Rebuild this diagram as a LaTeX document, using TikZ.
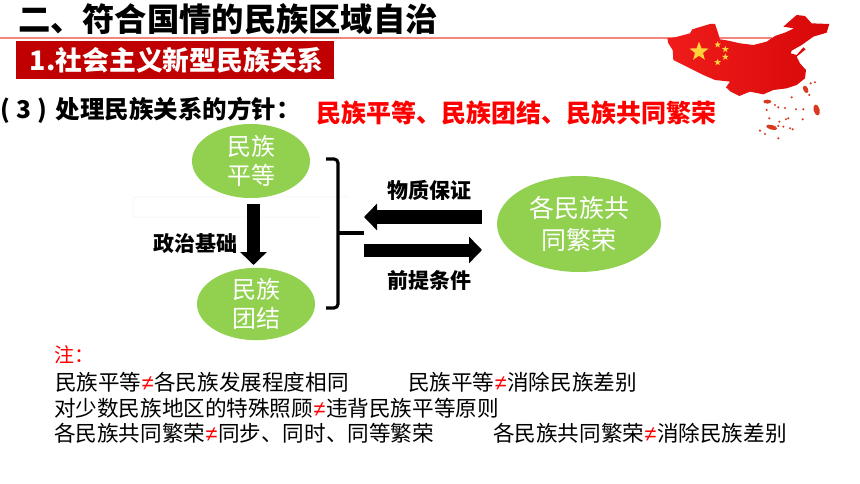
\documentclass[tikz,border=0pt]{standalone}
\usepackage{fontspec}
\setmainfont{Noto Sans CJK SC}
\newfontfamily\symfont{Liberation Sans}
\usetikzlibrary{shapes.geometric,arrows.meta,calc}
\definecolor{leafgreen}{HTML}{92D050}
\definecolor{boxred}{HTML}{C00000}
\definecolor{rulepink}{HTML}{F4857C}
\definecolor{islered}{HTML}{D83A20}
\definecolor{staryellow}{HTML}{FFD23C}
\definecolor{mapleft}{HTML}{F01C1C}
\definecolor{mapright}{HTML}{D80808}
\newcommand{\nq}{\hspace{.5pt}\textcolor{red}{\symfont ≠}\hspace{.5pt}}
\tikzset{
  x=1pt,y=-1pt,
  txt/.style={anchor=west,inner sep=0pt,outer sep=0pt},
  bubble/.style={ellipse,fill=leafgreen,inner sep=0pt,text=white,align=center,font=\fontsize{24}{30}\selectfont},
  blockarrow/.style={line width=13pt,-{Triangle[width=26pt,length=13pt]}},
  notetxt/.style={txt,font=\fontsize{21.6}{24}\selectfont},
  label/.style={anchor=center,inner sep=0pt,font=\fontsize{21}{24}\selectfont\bfseries},
  isle/.style={fill=islered,draw=none},
  bigstar/.style={star,star points=5,star point ratio=2.4,fill=staryellow,inner sep=0pt,minimum size=20pt},
  smallstar/.style={star,star points=5,star point ratio=2.4,fill=staryellow,inner sep=0pt,minimum size=7pt},
}
\begin{document}
\begin{tikzpicture}
\useasboundingbox (0,0) rectangle (860,484);
\fill[white] (0,0) rectangle (860,484);
% faint remnant
\draw[black!6,line width=.5pt,rounded corners=3pt] (348,197) -- (133,197) -- (133,217) -- (320,217);
% title rule
\draw[rulepink,line width=1.5pt] (0,38) -- (772,38);
% map
\begin{scope}[shift={(660,10)},x=.3333pt,y=-.3333pt]
\shade[left color=mapleft,right color=mapright]
 (22,85)--(45,82)--(90,70)--(97,58)--(150,42)--(165,42)--(172,62)--(180,88)--(205,92)--(240,100)--(280,105)--(320,95)--(345,78)--(375,68)--(402,55)--(370,50)--(395,28)--(410,15)--(435,18)--(455,40)--(508,42)--(500,68)--(460,80)--(425,105)--(395,122)--(392,130)--(410,135)--(430,112)--(437,118)--(410,140)--(420,160)--(438,180)--(435,205)--(410,225)--(380,235)--(340,240)--(310,253)--(270,245)--(238,258)--(212,245)--(198,232)--(210,215)--(165,210)--(130,195)--(70,165)--(40,150)--(38,120)--(25,100)--cycle;
\node[bigstar] (star0) at (117,125) {};
\node[smallstar] (star1) at (173,104) {};
\node[smallstar] (star2) at (196,118) {};
\node[smallstar] (star3) at (196,141) {};
\node[smallstar] (star4) at (173,157) {};
\fill[isle] (322,275) ellipse [x radius=12,y radius=6];
\fill[isle,rotate around={15:(470,300)}] (470,300) ellipse [x radius=9,y radius=17];
\fill[isle,rotate around={25:(437,238)}] (437,238) ellipse [x radius=7,y radius=12];
\fill[isle,rotate around={-15:(335,352)}] (335,352) ellipse [x radius=17,y radius=7];
\foreach \a/\b in {345/285,355/292,375/294,408/298,430/298,320/300,328/325,378/328,358/335,390/355,428/328,452/220,465/217,448/255,395/262,300/362,315/372,355/385,370/350,355/348,385/325,398/358}
  \fill[isle] (\a,\b) circle [radius=3.5];
\end{scope}
% headings
\node[txt,font=\fontsize{32.3}{36}\selectfont\bfseries] (title) at (18,19) {二、符合国情的民族区域自治};
\node[draw=none,fill=boxred,minimum width=318pt,minimum height=38pt,inner sep=0pt] (redbox) at (175,60) {};
\node[txt,text=white,font=\fontsize{26.8}{30}\selectfont\bfseries] (sub) at (30,60) {1.社会主义新型民族关系};
\node[txt,font=\fontsize{24.5}{28}\selectfont\bfseries] (q) at (0,110) {(\hspace{7pt}3\hspace{6pt})\hspace{8pt}处理民族关系的方针：};
\node[txt,text=red,font=\fontsize{25}{28}\selectfont\bfseries] (ans) at (316,113) {民族平等、民族团结、民族共同繁荣};
% bubbles
\node[bubble,minimum width=118pt,minimum height=74pt] (eq) at (251,161) {民族\\[-1pt]平等};
\node[bubble,minimum width=118pt,minimum height=72pt] (un) at (256,304) {民族\\[-1pt]团结};
\node[bubble,minimum width=164pt,minimum height=96pt,font=\fontsize{25}{32}\selectfont] (pr) at (579,224) {各民族共\\同繁荣};
% arrows
\coordinate (dnA) at (253.5,204);
\coordinate (dnB) at (253.5,265);
\draw[blockarrow] (dnA) -- (dnB);
\coordinate (lfA) at (482,217);
\coordinate (lfB) at (364,217);
\draw[blockarrow] (lfA) -- (lfB);
\coordinate (rtA) at (364,250);
\coordinate (rtB) at (482,250);
\draw[blockarrow] (rtA) -- (rtB);
% bracket
\coordinate (brT) at (326,159);
\coordinate (brB) at (326,308);
\coordinate (brS) at (364,233);
\draw[line width=3.2pt,rounded corners=4pt] (brT) -- (338,159) -- (338,308) -- (brB);
\draw[line width=3.2pt] (338,233) -- (brS);
% labels
\node[label] (l1) at (195,244) {政治基础};
\node[label] (l2) at (429,190) {物质保证};
\node[label] (l3) at (429,280) {前提条件};
% notes
\node[txt,text=red,font=\fontsize{20}{24}\selectfont] (n0) at (54,355) {注：};
\node[notetxt] (n1) at (55,382) {民族平等\nq 各民族发展程度相同};
\node[notetxt] (n2) at (408,382) {民族平等\nq 消除民族差别};
\node[notetxt] (n3) at (54,408) {对少数民族地区的特殊照顾\nq 违背民族平等原则};
\node[notetxt] (n4) at (54,433) {各民族共同繁荣\nq 同步、同时、同等繁荣};
\node[notetxt] (n5) at (493,433) {各民族共同繁荣\nq 消除民族差别};
\end{tikzpicture}
\end{document}
